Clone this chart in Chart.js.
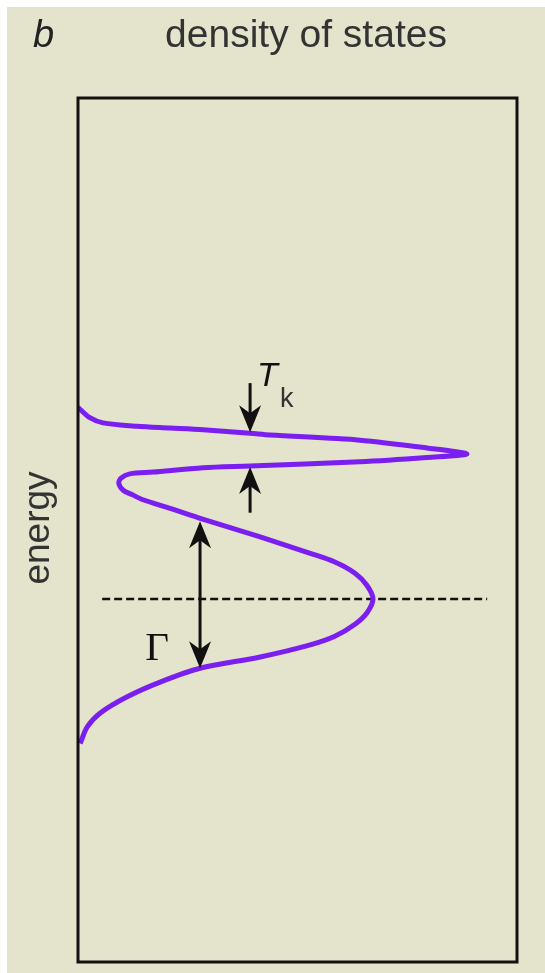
<!DOCTYPE html>
<html>
<head>
<meta charset="utf-8">
<script src="https://cdn.jsdelivr.net/npm/chart.js@4.4.1/dist/chart.umd.min.js"></script>
<style>
  html, body { margin: 0; padding: 0; background: #fff; }
  #wrap { width: 545px; height: 973px; }
</style>
</head>
<body>
<div id="wrap"><canvas id="dos-chart" width="545" height="973"></canvas></div>
<script>
// Curve: density of states (0..100 across the frame)
// against energy (0..100 up the frame), listed top to bottom.
const dosValues = [0, 2.7, 5.7, 13.4, 21.0, 28.5, 39.2, 43.7, 64.2, 79.5, 88.6, 79.5, 64.2, 39.2, 28.5, 17.1, 11.8, 9.8, 9.3, 10.3,
  12.3, 14.8, 21.0, 28.2, 41.5, 52.9, 58.5, 63.1, 65.8, 67.2, 65.8, 63.1, 58.5, 52.9, 41.5, 27.8, 18.7, 11.2, 5.0, 2.1, 0.5];
const energyValues = [64.2, 63.0, 62.4, 62.0, 61.8, 61.6, 61.2, 61.0, 60.4, 59.5, 58.8, 58.4, 57.9, 57.4, 57.2, 56.7, 56.5, 56.0, 55.4, 54.6,
  54.1, 53.5, 52.5, 51.3, 49.2, 47.3, 46.3, 45.0, 43.6, 42.0, 40.4, 39.1, 37.7, 36.7, 35.3, 34.0, 32.4, 30.7, 28.8, 27.2, 25.3];

// dashed level line
const levelDos = [5.5, 93.2];
const levelEnergy = [42.0, 42.0];

// arrows: position on the dos axis, start and end energy, double headed?
const arrowDos = [39.2, 39.2, 27.8];
const arrowFrom = [67.0, 52.0, 51.0];
const arrowTo = [61.3, 57.3, 34.0];
const arrowDouble = [false, false, true];

const PURPLE = '#7a1ff0';
const INK = '#111';

const curvePoints = dosValues.map((d, i) => ({ x: d, y: energyValues[i] }));
const levelPoints = levelDos.map((d, i) => ({ x: d, y: levelEnergy[i] }));

function arrowHead(ctx, x, y, dir) {
  // dir = 1 points down, -1 points up
  const L = 27, W = 11, N = 19;
  ctx.beginPath();
  ctx.moveTo(x, y);
  ctx.lineTo(x - W, y - dir * L);
  ctx.lineTo(x, y - dir * N);
  ctx.lineTo(x + W, y - dir * L);
  ctx.closePath();
  ctx.fill();
}

const decorations = {
  id: 'decorations',
  beforeDraw(chart) {
    const ctx = chart.ctx;
    ctx.save();
    ctx.fillStyle = '#fff';
    ctx.fillRect(0, 0, chart.width, chart.height);
    ctx.fillStyle = '#e4e3cb';
    ctx.fillRect(7, 7, chart.width - 7, chart.height - 7);
    ctx.restore();
  },
  afterDatasetsDraw(chart) {
    const { ctx, chartArea: a, scales: { x, y } } = chart;
    ctx.save();

    // frame
    ctx.strokeStyle = INK;
    ctx.lineWidth = 3;
    ctx.strokeRect(a.left, a.top, a.right - a.left, a.bottom - a.top);

    // arrows
    ctx.fillStyle = INK;
    arrowDos.forEach((d, i) => {
      const px = x.getPixelForValue(d);
      const y0 = y.getPixelForValue(arrowFrom[i]);
      const y1 = y.getPixelForValue(arrowTo[i]);
      const dir = y1 > y0 ? 1 : -1;
      ctx.lineWidth = 3;
      ctx.beginPath();
      ctx.moveTo(px, arrowDouble[i] ? y0 + dir * 15 : y0);
      ctx.lineTo(px, y1 - dir * 15);
      ctx.stroke();
      arrowHead(ctx, px, y1, dir);
      if (arrowDouble[i]) arrowHead(ctx, px, y0, -dir);
    });

    // labels inside the frame
    ctx.fillStyle = INK;
    ctx.textBaseline = 'alphabetic';
    ctx.textAlign = 'left';
    ctx.font = 'italic 34px "Liberation Sans", Arial, sans-serif';
    ctx.fillText('T', x.getPixelForValue(40.8), y.getPixelForValue(66.7));
    ctx.fillStyle = '#333';
    ctx.font = '27px "Liberation Sans", Arial, sans-serif';
    ctx.fillText('k', x.getPixelForValue(46.0), y.getPixelForValue(64.2));
    ctx.fillStyle = INK;
    ctx.font = '41px "Liberation Serif", "Times New Roman", serif';
    ctx.fillText('Γ', x.getPixelForValue(15.3), y.getPixelForValue(34.95));

    // panel letter, title, axis label
    ctx.fillStyle = '#222';
    ctx.font = 'italic 38px "Liberation Sans", Arial, sans-serif';
    ctx.fillText('b', 33, 47);
    ctx.fillStyle = '#333';
    ctx.font = '39px "Liberation Sans", Arial, sans-serif';
    ctx.textAlign = 'center';
    ctx.fillText('density of states', 306, 47);
    ctx.translate(49, 528);
    ctx.rotate(-Math.PI / 2);
    ctx.font = '37px "Liberation Sans", Arial, sans-serif';
    ctx.fillText('energy', 0, 0);
    ctx.restore();
  }
};

new Chart(document.getElementById('dos-chart'), {
  type: 'scatter',
  data: {
    datasets: [
      {
        data: curvePoints,
        showLine: true,
        borderColor: PURPLE,
        borderWidth: 5,
        pointRadius: 0,
        tension: 0.3
      },
      {
        data: levelPoints,
        showLine: true,
        borderColor: INK,
        borderWidth: 2.5,
        borderDash: [8, 4],
        pointRadius: 0
      }
    ]
  },
  options: {
    responsive: false,
    animation: false,
    layout: { padding: { left: 78, right: 28, top: 98, bottom: 11 } },
    scales: {
      x: { type: 'linear', min: 0, max: 100, display: false },
      y: { type: 'linear', min: 0, max: 100, display: false }
    },
    plugins: { legend: { display: false }, tooltip: { enabled: false } }
  },
  plugins: [decorations]
});
</script>
</body>
</html>
